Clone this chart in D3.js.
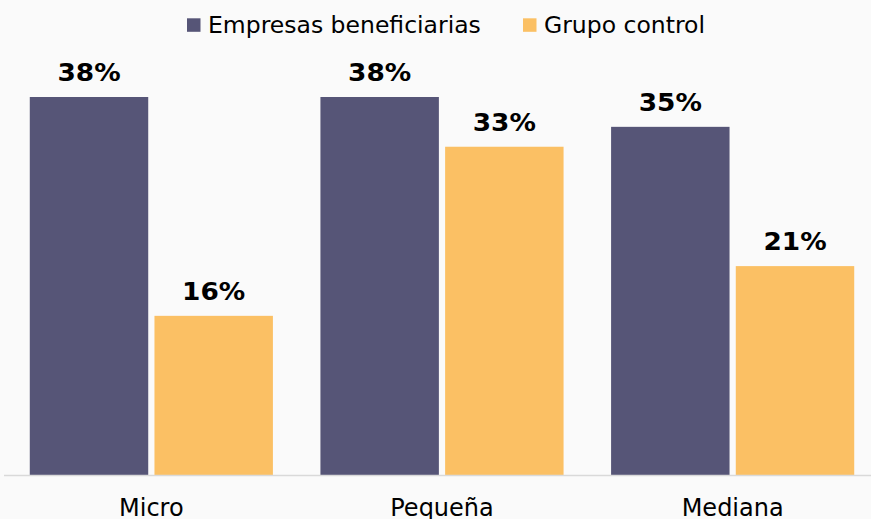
<!DOCTYPE html>
<html>
<head>
<meta charset="utf-8">
<script src="https://cdn.jsdelivr.net/npm/d3@7/dist/d3.min.js"></script>
<style>
  html, body { margin: 0; padding: 0; background: #fafafa; }
  svg { display: block; }
  text { font-family: "DejaVu Sans", Verdana, sans-serif; }
</style>
</head>
<body>
<svg id="chart" width="871" height="519"></svg>
<script>
// Firm-size categories and share per group (%)
const categories = ["Micro", "Pequeña", "Mediana"];
const seriesNames = ["Empresas beneficiarias", "Grupo control"];
const beneficiarias = [38, 38, 35];
const control = [16, 33, 21];
const seriesColors = ["#565577", "#fbc064"];

const width = 871, height = 519;
const plot = { left: 6, right: 878, top: 78, bottom: 475 };

const svg = d3.select("#chart");
svg.append("rect").attr("width", width).attr("height", height).attr("fill", "#fafafa");

const rows = categories.map((c, i) => ({ cat: c, values: [beneficiarias[i], control[i]] }));

const x0 = d3.scaleBand()
  .domain(categories)
  .range([plot.left, plot.right])
  .paddingInner(0.1635)
  .paddingOuter(0.0818);

const x1 = d3.scaleBand()
  .domain(seriesNames)
  .range([0, x0.bandwidth()])
  .paddingInner(0.05);

const y = d3.scaleLinear()
  .domain([0, 38])
  .range([plot.bottom, 97]);

const color = d3.scaleOrdinal().domain(seriesNames).range(seriesColors);

// Bars
const groups = svg.append("g").selectAll("g")
  .data(rows)
  .join("g")
  .attr("transform", d => `translate(${x0(d.cat)},0)`);

groups.selectAll("rect")
  .data(d => d.values.map((v, j) => ({ name: seriesNames[j], value: v })))
  .join("rect")
  .attr("x", d => x1(d.name))
  .attr("y", d => y(d.value))
  .attr("width", x1.bandwidth())
  .attr("height", d => y(0) - y(d.value))
  .attr("fill", d => color(d.name));

// Value labels (bold, slightly widened)
groups.selectAll("text.value")
  .data(d => d.values.map((v, j) => ({ name: seriesNames[j], value: v })))
  .join("text")
  .attr("class", "value")
  .attr("transform", d => `translate(${x1(d.name) + x1.bandwidth() / 2},${y(d.value) - 16}) scale(1.1,1)`)
  .attr("text-anchor", "middle")
  .attr("font-size", 24)
  .attr("font-weight", "bold")
  .attr("fill", "#000")
  .text(d => d.value + "%");

// Baseline
svg.append("line")
  .attr("x1", 4).attr("x2", width)
  .attr("y1", y(0) + 0.5).attr("y2", y(0) + 0.5)
  .attr("stroke", "#d9d9d9")
  .attr("stroke-width", 1.5);

// Category axis
const xAxis = d3.axisBottom(x0).tickSize(0).tickPadding(0);
const axisG = svg.append("g")
  .attr("transform", `translate(0,${plot.bottom})`)
  .call(xAxis);
axisG.select(".domain").remove();
axisG.selectAll("text")
  .attr("dy", null)
  .attr("y", 40.5)
  .attr("font-size", 24)
  .attr("font-family", "DejaVu Sans, Verdana, sans-serif")
  .attr("fill", "#000");

// Legend
const legend = svg.append("g").attr("transform", "translate(187,0)");
const legendX = [0, 336];
seriesNames.forEach((name, i) => {
  const g = legend.append("g").attr("transform", `translate(${legendX[i]},0)`);
  g.append("rect")
    .attr("x", 0).attr("y", 18.3)
    .attr("width", 13.5).attr("height", 13.5)
    .attr("fill", color(name));
  g.append("text")
    .attr("x", 21).attr("y", 33.3)
    .attr("font-size", 23.5)
    .attr("fill", "#000")
    .text(name);
});
</script>
</body>
</html>
